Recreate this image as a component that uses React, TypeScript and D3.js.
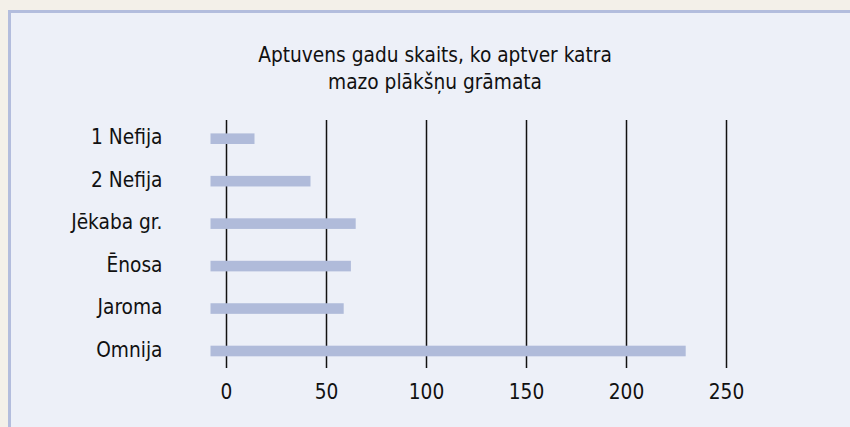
import React from "react";
import * as d3 from "d3";

const titleLines = ["Aptuvens gadu skaits, ko aptver katra", "mazo plākšņu grāmata"];
const categories = ["1 Nefija", "2 Nefija", "Jēkaba gr.", "Ēnosa", "Jaroma", "Omnija"];
const values = [14, 42, 64.6, 62.2, 58.6, 229.6];
const tickValues = [0, 50, 100, 150, 200, 250];
const barOrigin = -8;

const W = 850;
const H = 427;
const FONT = "'Liberation Sans Narrow', 'DejaVu Sans Condensed', 'Roboto', sans-serif";
const SX = 0.94;

function Label({ x, y, anchor, children }: { x: number; y: number; anchor: string; children: React.ReactNode }) {
  return (
    <g transform={`translate(${x},${y}) scale(${SX},1)`}>
      <text x={0} y={0} textAnchor={anchor} fontSize={22} fill="#111">
        {children}
      </text>
    </g>
  );
}

export default function App() {
  React.useEffect(() => {
    document.body.style.margin = "0";
    document.body.style.overflow = "hidden";
    document.body.style.background = "#edf0f8";
  }, []);
  const x = d3.scaleLinear().domain([0, 250]).range([226.5, 726.5]);
  const y = d3.scalePoint<string>().domain(categories).range([138.7, 351]);
  const barH = 10.6;

  return (
    <svg
      width={W}
      height={H}
      style={{ display: "block", position: "fixed", left: 0, top: 0 }}
      fontFamily={FONT}
    >
      <rect x={0} y={0} width={W} height={H} fill="#f3f0e9" />
      <rect x={8} y={10} width={W + 40} height={H + 40} fill="#b3bddd" />
      <rect x={11} y={13} width={W + 40} height={H + 40} fill="#edf0f8" />

      {titleLines.map((t, i) => (
        <Label key={i} x={435} y={62 + i * 27} anchor="middle">
          {t}
        </Label>
      ))}

      {tickValues.map((v) => (
        <g key={v}>
          <line
            x1={x(v)}
            x2={x(v)}
            y1={120}
            y2={368}
            stroke="#111"
            strokeWidth={1.5}
          />
          <Label x={x(v)} y={399} anchor="middle">
            {v}
          </Label>
        </g>
      ))}

      {categories.map((c, i) => (
        <g key={c}>
          <rect
            x={x(barOrigin)}
            y={(y(c) as number) - barH / 2}
            width={x(values[i]) - x(barOrigin)}
            height={barH}
            fill="#b0bbda"
          />
          <Label x={162.5} y={(y(c) as number) + 5.5} anchor="end">
            {c}
          </Label>
        </g>
      ))}
    </svg>
  );
}
